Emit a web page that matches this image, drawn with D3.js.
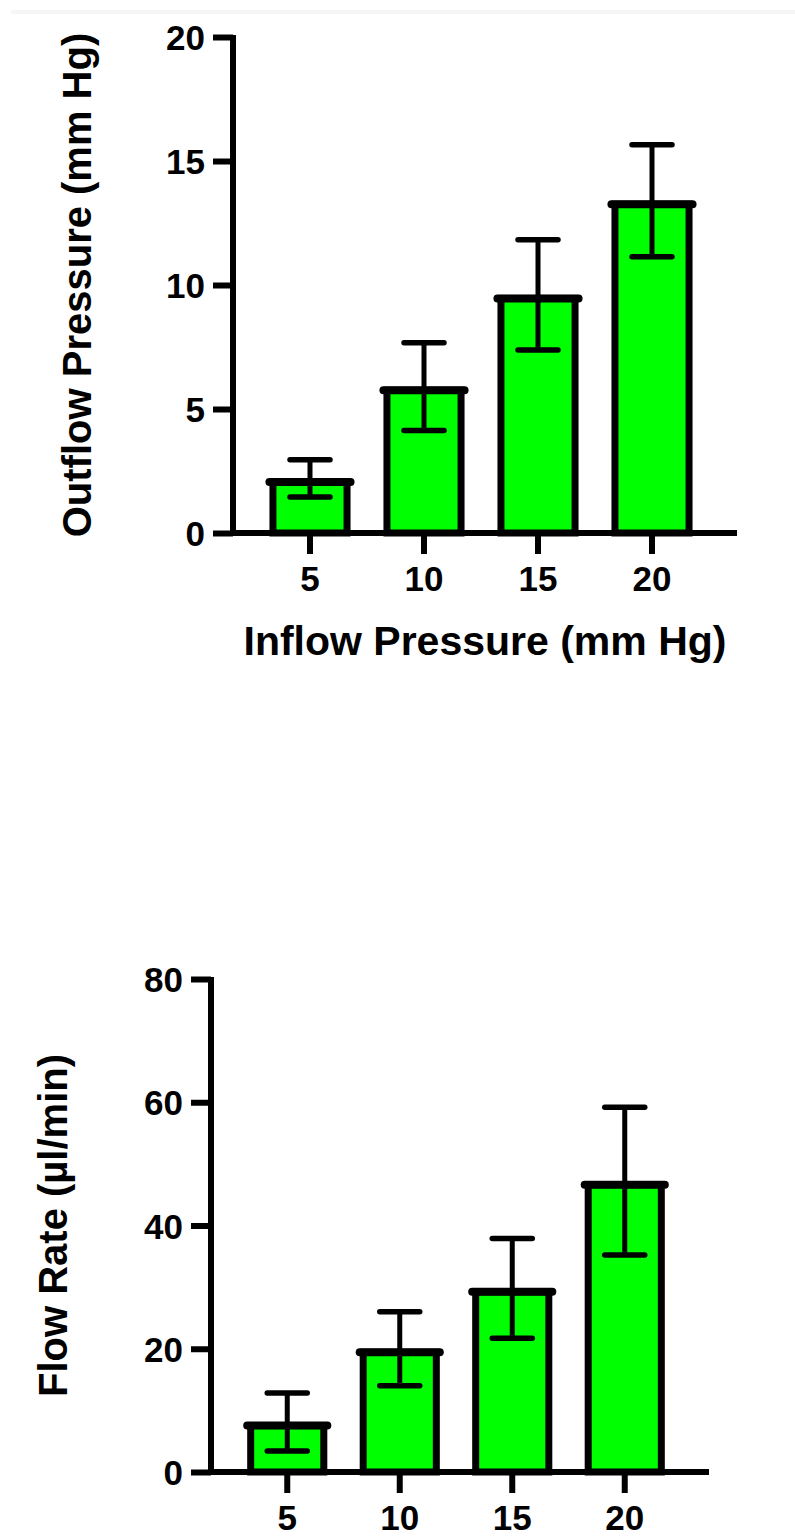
<!DOCTYPE html>
<html>
<head>
<meta charset="utf-8">
<script src="https://cdn.jsdelivr.net/npm/d3@7"></script>
<style>
  html, body { margin: 0; padding: 0; background: #ffffff; }
  svg { display: block; }
  text { font-family: "Liberation Sans", Arial, sans-serif; font-weight: bold; fill: #000; }
</style>
</head>
<body>
<script>
// Inflow pressure levels (x categories)
const inflowPressures = ["5", "10", "15", "20"];

// Outflow pressure (mm Hg): mean and error per inflow level
const outflowMean = [2.2, 5.9, 9.6, 13.4];
const outflowErr  = [0.75, 1.77, 2.22, 2.26];
const outflowTicks = [0, 5, 10, 15, 20];

// Flow rate (µl/min): mean and error per inflow level
const flowMean = [8.1, 20.0, 29.8, 47.2];
const flowErr  = [4.7, 6.0, 8.1, 12.0];
const flowTicks = [0, 20, 40, 60, 80];

const W = 795, H = 1539;
const svg = d3.select("body").append("svg").attr("width", W).attr("height", H);

// faint band across the top edge
svg.append("rect").attr("x", 11).attr("y", 10).attr("width", W - 11).attr("height", 4)
  .attr("fill", "#f6f6f6");

function drawPanel(p) {
  const g = svg.append("g");
  const y = d3.scaleLinear().domain([p.ticks[0], p.ticks[p.ticks.length - 1]]).range([p.y0, p.y1]);
  const x = d3.scaleBand().domain(inflowPressures).range([p.axisX + 20, p.axisEnd - 28])
    .paddingInner(0.35).paddingOuter(0.175);

  const axisW = 6, barStroke = 7;

  // bars
  const rows = inflowPressures.map((c, i) => ({ c, m: p.mean[i], e: p.err[i] }));
  const bars = g.selectAll("g.bar").data(rows).join("g").attr("class", "bar");
  bars.append("rect")
    .attr("x", d => x(d.c))
    .attr("y", d => y(d.m) + barStroke / 2)
    .attr("width", x.bandwidth())
    .attr("height", d => y(0) - y(d.m) - barStroke / 2)
    .attr("fill", "#00ff00")
    .attr("stroke", "#000")
    .attr("stroke-width", barStroke);
  bars.append("line")
    .attr("x1", d => x(d.c) - barStroke / 2)
    .attr("x2", d => x(d.c) + x.bandwidth() + barStroke / 2)
    .attr("y1", d => y(d.m) + barStroke / 2)
    .attr("y2", d => y(d.m) + barStroke / 2)
    .attr("stroke", "#000").attr("stroke-width", barStroke + 1).attr("stroke-linecap", "round");

  // error bars
  const cx = d => x(d.c) + x.bandwidth() / 2;
  bars.append("line")
    .attr("x1", cx).attr("x2", cx)
    .attr("y1", d => y(d.m + d.e)).attr("y2", d => y(d.m - d.e))
    .attr("stroke", "#000").attr("stroke-width", 5);
  [1, -1].forEach(s => {
    bars.append("line")
      .attr("x1", d => cx(d) - 20).attr("x2", d => cx(d) + 20)
      .attr("y1", d => y(d.m + s * d.e)).attr("y2", d => y(d.m + s * d.e))
      .attr("stroke", "#000").attr("stroke-width", 5.5).attr("stroke-linecap", "round");
  });

  // y axis
  const yAxis = d3.axisLeft(y).tickValues(p.ticks).tickSize(20).tickSizeOuter(0).tickPadding(8);
  const ya = g.append("g").attr("transform", `translate(${p.axisX},0)`).call(yAxis);
  ya.select(".domain").remove();
  ya.selectAll(".tick line").attr("stroke", "#000").attr("stroke-width", axisW);
  ya.selectAll(".tick text").attr("font-size", 35).attr("dy", "0.36em").style("font-family", "'Liberation Sans', Arial, sans-serif");
  g.append("line").attr("x1", p.axisX).attr("x2", p.axisX)
    .attr("y1", y(p.ticks[p.ticks.length - 1]) - 2).attr("y2", y(0) + 3)
    .attr("stroke", "#000").attr("stroke-width", axisW);

  // x axis
  const xAxis = d3.axisBottom(x).tickSize(21).tickSizeOuter(0).tickPadding(12);
  const xa = g.append("g").attr("transform", `translate(0,${y(0)})`).call(xAxis);
  xa.select(".domain").remove();
  xa.selectAll(".tick line").attr("stroke", "#000").attr("stroke-width", axisW);
  xa.selectAll(".tick text").attr("font-size", 35).style("font-family", "'Liberation Sans', Arial, sans-serif");
  g.append("line").attr("x1", p.axisX).attr("x2", p.axisEnd)
    .attr("y1", y(0)).attr("y2", y(0))
    .attr("stroke", "#000").attr("stroke-width", axisW);

  // y title
  g.append("text")
    .attr("transform", `translate(${p.ylabelX},${(y.range()[0] + y.range()[1]) / 2}) rotate(-90)`)
    .attr("text-anchor", "middle").attr("font-size", 40)
    .text(p.ylabel);

  if (p.xlabel) {
    g.append("text")
      .attr("x", (p.axisX + p.axisEnd) / 2).attr("y", p.xlabelY)
      .attr("text-anchor", "middle").attr("font-size", 41)
      .text(p.xlabel);
  }
}

drawPanel({
  mean: outflowMean, err: outflowErr, ticks: outflowTicks,
  y0: 533, y1: 37, axisX: 233, axisEnd: 737,
  ylabel: "Outflow Pressure (mm Hg)", ylabelX: 91,
  xlabel: "Inflow Pressure (mm Hg)", xlabelY: 655
});

drawPanel({
  mean: flowMean, err: flowErr, ticks: flowTicks,
  y0: 1472, y1: 979, axisX: 211, axisEnd: 709,
  ylabel: "Flow Rate (µl/min)", ylabelX: 67
});
</script>
</body>
</html>
